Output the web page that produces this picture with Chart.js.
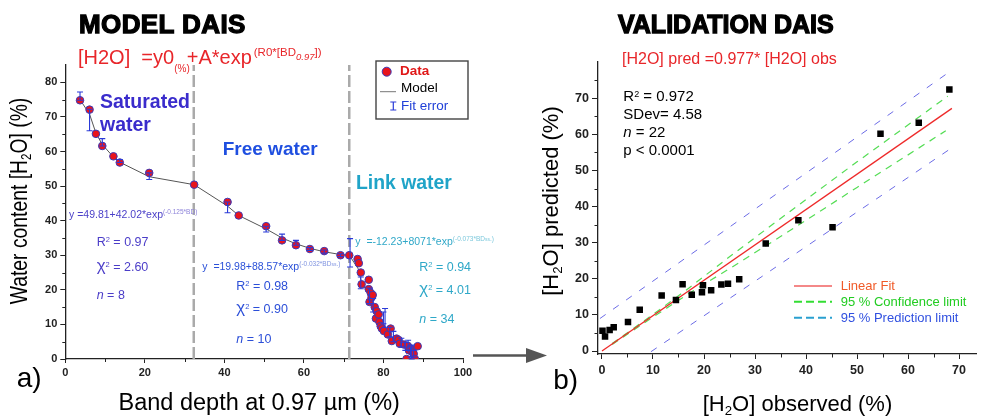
<!DOCTYPE html>
<html><head><meta charset="utf-8">
<script src="https://cdn.jsdelivr.net/npm/chart.js@4.4.1/dist/chart.umd.min.js"></script>
<style>
html,body{margin:0;padding:0;background:#fff;width:981px;height:417px;overflow:hidden;font-family:'Liberation Sans',Arial,sans-serif;}
canvas{position:absolute;left:0;top:0;}
svg{position:absolute;left:0;top:0;}
.t{position:absolute;white-space:nowrap;line-height:1.2;}
.su{position:relative;font-size:0.6em;line-height:0;top:-0.5em;}
.sb{position:relative;font-size:0.6em;line-height:0;top:0.3em;}
.big{font-size:1.35em;line-height:0;}
.rot{transform:translate(-50%,-50%) rotate(-90deg);}
.cx{transform:translateX(-50%);}
</style></head><body>
<canvas id="c1" width="981" height="417"></canvas>
<canvas id="c2" width="981" height="417"></canvas>
<svg width="981" height="417">
  <rect x="376" y="61" width="92" height="58" fill="#fff" stroke="#444" stroke-width="1.4"/>
  <circle cx="386.7" cy="71.7" r="4.5" fill="#e8141c" stroke="#3a3ab8" stroke-width="1"/>
  <line x1="380" y1="91.7" x2="396" y2="91.7" stroke="#777" stroke-width="1"/>
  <path d="M393.3 102 V110 M390.3 102 H396.3 M390.3 110 H396.3" stroke="#2a3ad8" stroke-width="1.2" fill="none"/>
  <line x1="473" y1="355.5" x2="530" y2="355.5" stroke="#555" stroke-width="2.5"/>
  <polygon points="526,348 547,355.5 526,363" fill="#555"/>
  <line x1="794" y1="286" x2="832" y2="286" stroke="#f06060" stroke-width="1.6"/>
  <line x1="794" y1="301.7" x2="832" y2="301.7" stroke="#33dd33" stroke-width="2" stroke-dasharray="8,4"/>
  <line x1="794" y1="317.7" x2="832" y2="317.7" stroke="#2aa0d0" stroke-width="2" stroke-dasharray="8,4"/>
</svg>

<div class="t" style="left:79px;top:8.9px;font-size:26px;font-weight:bold;-webkit-text-stroke:1.3px #000;letter-spacing:0.4px;">MODEL DAIS</div>
<div class="t" style="left:618px;top:8.7px;font-size:25px;font-weight:bold;-webkit-text-stroke:1.3px #000;">VALIDATION DAIS</div>

<div class="t" style="left:78px;top:44.5px;font-size:20px;color:#e8262a;">[H2O]&nbsp; =y0<span style="position:relative;font-size:10px;line-height:0;top:8px;margin-right:-3px;">(%)</span>+A*exp<span style="position:relative;font-size:11.5px;line-height:0;top:-8px;margin-left:2px;">(R0*[BD<span style="position:relative;font-size:9.5px;line-height:0;top:4px;font-style:italic;">0.97</span>])</span></div>
<div class="t" style="left:622px;top:49.2px;font-size:16px;color:#e8262a;">[H2O] pred =0.977* [H2O] obs</div>

<div class="t" style="left:100px;top:89.8px;font-size:19.5px;font-weight:bold;color:#3a2ccc;">Saturated</div>
<div class="t" style="left:100px;top:113px;font-size:19.5px;font-weight:bold;color:#3a2ccc;">water</div>
<div class="t" style="left:222.7px;top:137.6px;font-size:19px;font-weight:bold;color:#1f4fe0;">Free water</div>
<div class="t" style="left:356px;top:171.1px;font-size:19.4px;font-weight:bold;color:#20a4c8;">Link water</div>

<div class="t" style="left:69px;top:208px;font-size:10.5px;color:#4a3fc8;">y =49.81+42.02*exp<span style="position:relative;font-size:6.5px;line-height:0;top:-4px;color:#8d83d9;">(-0.125*BD)</span></div>
<div class="t" style="left:202.3px;top:259.7px;font-size:10.5px;color:#2a50d8;">y&nbsp; =19.98+88.57*exp<span style="position:relative;font-size:6.5px;line-height:0;top:-4px;color:#7f93e0;">(-0.032*BD<span style="font-size:5px">ss</span>.)</span></div>
<div class="t" style="left:355.3px;top:234.7px;font-size:10.5px;color:#30a8c8;">y&nbsp; =-12.23+8071*exp<span style="position:relative;font-size:6.5px;line-height:0;top:-4px;color:#7cc8dc;">(-0.073*BD<span style="font-size:5px">ss</span>.)</span></div>

<div class="t" style="left:96.7px;top:234.8px;font-size:12.5px;color:#4b3dc8;">R<span class="su">2</span> = 0.97</div>
<div class="t" style="left:96.7px;top:259.8px;font-size:12.5px;color:#4b3dc8;"><span class="big">χ</span><span class="su">2</span> = 2.60</div>
<div class="t" style="left:96.7px;top:288.2px;font-size:12.5px;color:#4b3dc8;"><i>n</i> = 8</div>

<div class="t" style="left:236.3px;top:278.5px;font-size:12.5px;color:#2c4fd8;">R<span class="su">2</span> = 0.98</div>
<div class="t" style="left:236.3px;top:301.5px;font-size:12.5px;color:#2c4fd8;"><span class="big">χ</span><span class="su">2</span> = 0.90</div>
<div class="t" style="left:236.3px;top:331.5px;font-size:12.5px;color:#2c4fd8;"><i>n</i> = 10</div>

<div class="t" style="left:419.3px;top:259.8px;font-size:12.5px;color:#2fa8c8;">R<span class="su">2</span> = 0.94</div>
<div class="t" style="left:419.3px;top:282.5px;font-size:12.5px;color:#2fa8c8;"><span class="big">χ</span><span class="su">2</span> = 4.01</div>
<div class="t" style="left:419.3px;top:311.8px;font-size:12.5px;color:#2fa8c8;"><i>n</i> = 34</div>

<div class="t" style="left:400px;top:63.2px;font-size:13.5px;font-weight:bold;color:#e01818;">Data</div>
<div class="t" style="left:401px;top:80.2px;font-size:13.5px;color:#000;">Model</div>
<div class="t" style="left:401px;top:97.9px;font-size:13.5px;color:#2040d8;">Fit error</div>

<div class="t" style="left:623.3px;top:87.2px;font-size:15px;">R<span class="su">2</span> = 0.972</div>
<div class="t" style="left:623.3px;top:104.9px;font-size:15px;">SDev= 4.58</div>
<div class="t" style="left:623.3px;top:123.3px;font-size:15px;"><i>n</i> = 22</div>
<div class="t" style="left:623.3px;top:141.3px;font-size:15px;">p &lt; 0.0001</div>

<div class="t" style="left:840.7px;top:278.2px;font-size:13px;color:#f05a28;">Linear Fit</div>
<div class="t" style="left:840.7px;top:293.9px;font-size:13px;color:#22cc22;">95 % Confidence limit</div>
<div class="t" style="left:840.7px;top:309.9px;font-size:13px;color:#3050e0;">95 % Prediction limit</div>

<div class="t" style="left:16.7px;top:361.2px;font-size:28px;">a)</div>
<div class="t" style="left:553.3px;top:363.2px;font-size:28px;">b)</div>

<div class="t cx" style="left:259.2px;top:388.4px;font-size:23.5px;">Band depth at 0.97 µm (%)</div>
<div class="t cx" style="left:797.5px;top:391px;font-size:22px;">[H<span class="sb">2</span>O] observed (%)</div>
<div class="t" style="left:20px;top:201.2px;font-size:23px;transform:translate(-50%,-50%) rotate(-90deg) scaleX(0.84);">Water content [H<span class="sb">2</span>O] (%)</div>
<div class="t rot" style="left:551.2px;top:200.8px;font-size:22px;">[H<span class="sb">2</span>O] predicted (%)</div>

<script>
// ---------- Panel a) MODEL DAIS ----------
const satBD   = [3.7, 6.1, 7.7, 9.3, 12.1, 13.7, 21.1, 32.4];
const satH2O  = [74.8, 72.1, 65.1, 61.6, 58.6, 56.8, 53.8, 50.4];
const freeBD  = [40.8, 43.6, 50.5, 54.5, 58.0, 61.5, 65.1, 69.2, 71.4];
const freeH2O = [45.4, 41.5, 38.4, 34.3, 32.9, 31.8, 31.2, 30.0, 30.0];
const linkBD  = [73.5, 73.8, 74.3, 74.5, 76.3, 76.3, 76.8, 76.5, 77.0, 77.3, 77.8, 78.3, 78.1, 78.8, 79.0, 79.3, 79.6, 80.1, 81.1, 81.8, 82.1, 83.3, 83.8, 84.1, 85.1, 86.1, 85.8, 86.4, 86.8, 87.3, 87.6, 87.9, 88.6];
const linkH2O = [28.9, 27.7, 25.0, 21.6, 22.9, 20.2, 19.1, 16.5, 17.8, 18.5, 15.0, 13.8, 11.7, 12.9, 10.7, 9.5, 8.8, 8.1, 7.1, 8.8, 5.2, 5.9, 5.5, 4.4, 4.2, 3.8, 0.0, 2.5, 3.0, 2.0, 1.5, 0.0, 3.7];
const modelBD  = [3.7, 6.1, 7.7, 9.3, 12.1, 13.7, 21.1, 32.4, 40.8, 43.6, 50.5, 54.5, 58.0, 61.5, 65.1, 69.2, 71.4, 73.7, 74.5, 76.5, 78.0, 80.0, 82.0, 84.0, 86.0, 87.5];
const modelH2O = [75.0, 70.8, 65.3, 62.0, 58.4, 56.9, 52.7, 50.4, 44.2, 41.5, 37.6, 35.0, 33.3, 32.0, 31.0, 30.2, 30.0, 26.0, 22.0, 18.5, 14.0, 9.5, 6.5, 4.5, 2.8, 1.8];
const errBD   = [3.7, 6.1, 9.3, 13.7, 21.1, 40.8, 50.5, 54.5, 58.0, 61.5, 65.1, 69.2, 71.6, 74.3, 76.5, 77.4, 80.0, 80.4, 81.6, 82.5, 84.5, 85.5, 86.2, 86.8, 87.1, 87.6];
const errLow  = [74.8, 66.0, 61.6, 56.8, 51.9, 42.3, 36.7, 34.3, 32.9, 31.4, 30.6, 29.6, 26.6, 20.3, 16.0, 13.6, 10.2, 9.2, 6.4, 5.0, 3.5, 2.5, 2.5, 0.5, 0.0, 0.5];
const errHigh = [77.2, 72.2, 63.7, 57.7, 53.8, 45.4, 38.4, 36.1, 34.3, 32.2, 31.5, 30.4, 34.8, 23.7, 20.5, 17.5, 13.6, 14.6, 9.2, 8.0, 6.0, 4.8, 5.4, 3.5, 4.0, 2.5];
const zoneBD  = [32.3, 71.4];
const aXTicks = [0, 20, 40, 60, 80, 100];
const aXMinor = [10, 30, 50, 70, 90];
const aYTicks = [0, 10, 20, 30, 40, 50, 60, 70, 80];
const aYMinor = [5, 15, 25, 35, 45, 55, 65, 75];

// ---------- Panel b) VALIDATION DAIS ----------
const obsH2O  = [0.1, 0.6, 1.5, 2.3, 5.1, 7.4, 11.7, 14.5, 15.8, 17.6, 19.6, 19.8, 21.4, 23.4, 24.7, 26.9, 32.1, 38.5, 45.2, 54.6, 62.1, 68.1];
const predH2O = [5.6, 4.0, 5.8, 6.6, 8.0, 11.4, 15.4, 14.1, 18.5, 15.6, 16.3, 18.2, 16.8, 18.4, 18.6, 19.9, 29.8, 36.2, 34.3, 60.2, 63.2, 72.4];
const fitX = [0, 68.6];
const fitY = [0, 67.2];
const confUpX = [2, 10, 17, 25, 35, 50, 67.8];
const confUpY = [2.1, 10.1, 17.4, 26.1, 36.7, 52.4, 70.6];
const confLoX = [2, 10, 17, 25, 35, 50, 67.4];
const confLoY = [1.8, 9.4, 15.9, 22.8, 31.7, 45.3, 61.0];
const predUpX = [-0.4, 68.6];
const predUpY = [9.0, 77.8];
const predLoX = [9.6, 68.6];
const predLoY = [-0.2, 56.3];
const bXTicks = [0, 10, 20, 30, 40, 50, 60, 70];
const bXMinor = [5, 15, 25, 35, 45, 55, 65];
const bYTicks = [0, 10, 20, 30, 40, 50, 60, 70];
const bYMinor = [5, 15, 25, 35, 45, 55, 65, 75];

const pts = (xs, ys) => xs.map((x, i) => ({x: x, y: ys[i]}));

Chart.defaults.font.family = "'Liberation Sans', Arial, sans-serif";
Chart.defaults.color = '#000';

const deco = {
  id: 'deco',
  afterDatasetsDraw(chart, args, o) {
    if (!o.err) return;
    const ctx = chart.ctx, xs = chart.scales.x, ys = chart.scales.y;
    ctx.save();
    ctx.strokeStyle = o.err.color; ctx.lineWidth = 1.1;
    o.err.x.forEach((v, i) => {
      const px = xs.getPixelForValue(v);
      const p1 = ys.getPixelForValue(o.err.lo[i]);
      const p2 = ys.getPixelForValue(o.err.hi[i]);
      ctx.beginPath();
      ctx.moveTo(px, p1); ctx.lineTo(px, p2);
      ctx.moveTo(px - 3, p1); ctx.lineTo(px + 3, p1);
      ctx.moveTo(px - 3, p2); ctx.lineTo(px + 3, p2);
      ctx.stroke();
    });
    ctx.restore();
  },
  afterDraw(chart, args, o) {
    const ctx = chart.ctx;
    ctx.save();
    ctx.strokeStyle = '#222'; ctx.lineWidth = 1;
    const xs = chart.scales.x, ys = chart.scales.y;
    o.xMinor.forEach(v => {
      const p = Math.round(xs.getPixelForValue(v)) + 0.5;
      ctx.beginPath(); ctx.moveTo(p, xs.top); ctx.lineTo(p, xs.top + o.minorLen); ctx.stroke();
    });
    o.yMinor.forEach(v => {
      const p = Math.round(ys.getPixelForValue(v)) + 0.5;
      ctx.beginPath(); ctx.moveTo(ys.right, p); ctx.lineTo(ys.right - o.minorLen, p); ctx.stroke();
    });
    ctx.restore();
  }
};

function axis(min, max, ticks, size, tickLen, pad, fitFn) {
  return {
    type: 'linear', min: min, max: max,
    afterBuildTicks: s => { s.ticks = ticks.map(v => ({value: v})); },
    afterFit: fitFn,
    grid: {display: true, drawOnChartArea: false, drawTicks: true, tickLength: tickLen, color: '#222', lineWidth: 1},
    border: {display: true, color: '#222', width: 1.3},
    ticks: {font: {size: size, weight: 'bold'}, color: '#222', padding: pad, maxRotation: 0, autoSkip: false}
  };
}

new Chart(document.getElementById('c1'), {
  type: 'scatter',
  data: {
    datasets: [
      {data: pts(satBD.concat(freeBD, linkBD), satH2O.concat(freeH2O, linkH2O)), pointRadius: 3.8, pointBackgroundColor: '#e8141c', pointBorderColor: '#3a3ab8', pointBorderWidth: 1, order: 0},
      {data: pts(modelBD, modelH2O), showLine: true, borderColor: '#555', borderWidth: 1, pointRadius: 0, order: 1},
      {data: pts([zoneBD[0], zoneBD[0]], [0, 85]), showLine: true, borderColor: '#aaaaaa', borderWidth: 2.5, borderDash: [12, 4], pointRadius: 0, order: 2},
      {data: pts([zoneBD[1], zoneBD[1]], [0, 85]), showLine: true, borderColor: '#aaaaaa', borderWidth: 2.5, borderDash: [12, 4], pointRadius: 0, order: 2}
    ]
  },
  plugins: [deco],
  options: {
    responsive: false, animation: false, devicePixelRatio: 1,
    layout: {padding: {left: 0, right: 518, top: 65, bottom: 28}},
    plugins: {legend: {display: false}, tooltip: {enabled: false},
      deco: {err: {x: errBD, lo: errLow, hi: errHigh, color: '#2a3ad8'}, xMinor: aXMinor, yMinor: aYMinor, minorLen: 3}},
    scales: {
      x: axis(0, 100, aXTicks, 11, 4, 3, s => { s.height = 30; }),
      y: axis(0, 85, aYTicks, 11, 5, 3, s => { s.width = 65.3; })
    }
  }
});

new Chart(document.getElementById('c2'), {
  type: 'scatter',
  data: {
    datasets: [
      {data: pts(obsH2O, predH2O), pointStyle: 'rect', pointRadius: 4.6, pointBackgroundColor: '#000', pointBorderColor: '#000', pointBorderWidth: 0, order: 0},
      {data: pts(fitX, fitY), showLine: true, borderColor: '#ee2a2a', borderWidth: 1.3, pointRadius: 0, order: 1},
      {data: pts(confUpX, confUpY), showLine: true, borderColor: '#55dd55', borderWidth: 1.2, borderDash: [7, 6], pointRadius: 0, order: 2},
      {data: pts(confLoX, confLoY), showLine: true, borderColor: '#55dd55', borderWidth: 1.2, borderDash: [7, 6], pointRadius: 0, order: 2},
      {data: pts(predUpX, predUpY), showLine: true, borderColor: '#6b6be6', borderWidth: 1, borderDash: [7, 9], pointRadius: 0, order: 3},
      {data: pts(predLoX, predLoY), showLine: true, borderColor: '#6b6be6', borderWidth: 1, borderDash: [7, 9], pointRadius: 0, order: 3}
    ]
  },
  plugins: [deco],
  options: {
    responsive: false, animation: false, devicePixelRatio: 1,
    layout: {padding: {left: 0, right: 0, top: 62, bottom: 33}},
    plugins: {legend: {display: false}, tooltip: {enabled: false},
      deco: {xMinor: bXMinor, yMinor: bYMinor, minorLen: 3.5}},
    scales: {
      x: axis(-0.78, 73.4, bXTicks, 12.5, 5, 4, s => { s.height = 30; }),
      y: axis(-0.83, 80.05, bYTicks, 12.5, 6, 3, s => { s.width = 598; })
    }
  }
});
</script>
</body></html>
